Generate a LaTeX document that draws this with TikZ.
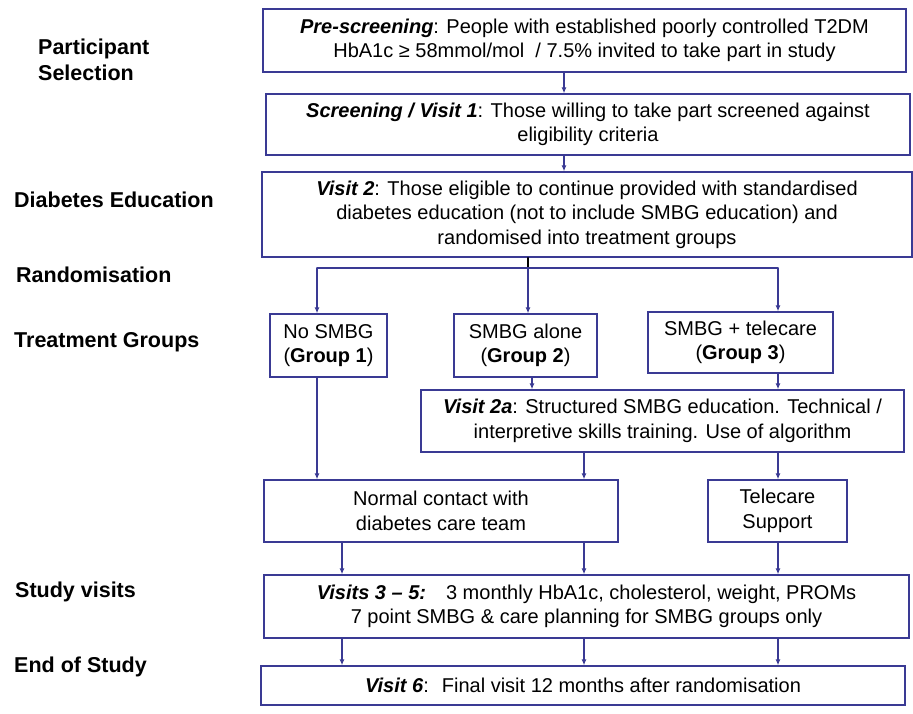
\documentclass[tikz,border=0pt]{standalone}
\usepackage{fontspec}
\setmainfont{Liberation Sans}
\usetikzlibrary{arrows,arrows.meta}
\definecolor{boxblue}{RGB}{58,58,148}

\begin{document}
\begin{tikzpicture}[x=1pt,y=-1pt,line cap=round,
    box/.style={draw=boxblue,line width=1.3pt,align=center,inner sep=0pt,
        font=\fontsize{20}{24.5}\selectfont},
    lbl/.style={anchor=west,align=left,inner sep=0pt,font=\fontsize{21.5}{26}\selectfont\bfseries},
    arr/.style={-{Latex[length=6pt,width=5pt]},draw=boxblue,line width=1.2pt}]
            \useasboundingbox (0,0) rectangle (913,713);
            % columns
            \coordinate (c0) at (564,0);
            \coordinate (cA) at (317,0);
            \coordinate (cB) at (528,0);
            \coordinate (cG) at (532,0);
            \coordinate (cC) at (778,0);
            \coordinate (cD) at (584,0);
            \coordinate (cE) at (342,0);
            \coordinate (split) at (528,268);
            % phase labels
            \node[lbl] (selection) at (38,60) {Participant\\Selection};
            \node[lbl] (education) at (14,200) {Diabetes Education};
            \node[lbl] (random) at (16,275) {Randomisation};
            \node[lbl] (treatment) at (14,342) {Treatment Groups};
            \node[lbl] (visits) at (15,592) {Study visits};
            \node[lbl] (end) at (14,667) {End of Study};
            % boxes
            \node[box,minimum width=643,minimum height=63] (pre) at (584.5,40.5)
                {\textbf{\textit{Pre-screening}}: People with established poorly controlled T2DM\\
                 HbA1c ≥ 58mmol/mol \ / 7.5\% invited to take part in study};
            \node[box,minimum width=644,minimum height=61] (scr) at (588,124.5)
                {\textbf{\textit{Screening / Visit 1}}: Those willing to take part screened against\\
                 eligibility criteria};
            \node[box,minimum width=650,minimum height=85] (v2) at (587,214.5)
                {\textbf{\textit{Visit 2}}: Those eligible to continue provided with standardised\\
                 diabetes education (not to include SMBG education) and\\
                 randomised into treatment groups};
            \node[box,minimum width=117,minimum height=63] (g1) at (328.5,345.5)
                {No SMBG\\(\textbf{Group 1})};
            \node[box,minimum width=143,minimum height=63] (g2) at (525.5,345.5)
                {SMBG alone\\(\textbf{Group 2})};
            \node[box,minimum width=185,minimum height=61] (g3) at (740.5,342.5)
                {SMBG + telecare\\(\textbf{Group 3})};
            \node[box,minimum width=483,minimum height=62] (v2a) at (662.5,421)
                {\textbf{\textit{Visit 2a}}: Structured SMBG education. Technical /\\
                 interpretive skills training. Use of algorithm};
            \node[box,minimum width=354,minimum height=62] (normal) at (441,511)
                {Normal contact with\\diabetes care team};
            \node[box,minimum width=139,minimum height=62] (tele) at (777.5,511)
                {Telecare\\Support};
            \node[box,minimum width=645,minimum height=63] (v35) at (586.5,606.5)
                {\textbf{\textit{Visits 3 – 5:}}\quad 3 monthly HbA1c, cholesterol, weight, PROMs\\
                 7 point SMBG \& care planning for SMBG groups only};
            \node[box,minimum width=644,minimum height=39] (v6) at (583,685.5)
                {\textbf{\textit{Visit 6}}: \ Final visit 12 months after randomisation};
            % selection
            \draw[arr] (pre.south -| c0) -- (scr.north -| c0);
            \draw[arr] (scr.south -| c0) -- (v2.north -| c0);
            % randomisation
            \draw[line width=1.2pt] (v2.south -| cB) -- (split);
            \draw[boxblue,line width=1.2pt] (split -| cA) -- (split -| cC);
            \draw[arr] (split -| cA) -- (g1.north -| cA);
            \draw[arr] (split) -- (g2.north -| cB);
            \draw[arr] (split -| cC) -- (g3.north -| cC);
            % groups
            \draw[arr] (g2.south -| cG) -- (v2a.north -| cG);
            \draw[arr] (g3.south -| cC) -- (v2a.north -| cC);
            \draw[arr] (g1.south -| cA) -- (normal.north -| cA);
            \draw[arr] (v2a.south -| cD) -- (normal.north -| cD);
            \draw[arr] (v2a.south -| cC) -- (tele.north -| cC);
            % study visits
            \draw[arr] (normal.south -| cE) -- (v35.north -| cE);
            \draw[arr] (normal.south -| cD) -- (v35.north -| cD);
            \draw[arr] (tele.south -| cC) -- (v35.north -| cC);
            \draw[arr] (v35.south -| cE) -- (v6.north -| cE);
            \draw[arr] (v35.south -| cD) -- (v6.north -| cD);
            \draw[arr] (v35.south -| cC) -- (v6.north -| cC);
\end{tikzpicture}
\end{document}
